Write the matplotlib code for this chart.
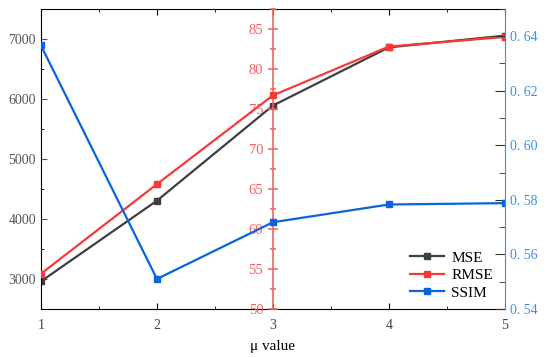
import matplotlib
matplotlib.use('Agg')
import matplotlib.pyplot as plt
from matplotlib.ticker import MultipleLocator, FuncFormatter

mu = [1, 2, 3, 4, 5]
mse = [2960, 4305, 5890, 6860, 7055]
rmse = [54.4, 65.6, 76.7, 82.8, 84.0]
ssim = [0.6366, 0.5510, 0.5718, 0.5783, 0.5788]

plt.rcParams['font.family'] = ['Liberation Serif', 'DejaVu Serif']
plt.rcParams['font.size'] = 10

c_mse = '#3f3f3f'
c_rmse = '#f53a3a'
c_ssim = '#0a64dc'
c_mid = '#f76060'
c_right = '#3a8fe8'

fig = plt.figure(figsize=(5.5, 3.58), dpi=100)
ax = fig.add_axes([0.0745, 0.137, 0.8435, 0.838])

l1, = ax.plot(mu, mse, color=c_mse, marker='s', ms=5, lw=1.6, label='MSE')
ax.set_xlim(1, 5)
ax.set_ylim(2500, 7500)
ax.xaxis.set_major_locator(MultipleLocator(1))
ax.xaxis.set_minor_locator(MultipleLocator(0.5))
ax.yaxis.set_major_locator(MultipleLocator(1000))
ax.yaxis.set_minor_locator(MultipleLocator(500))
ax.tick_params(axis='both', which='both', direction='in', top=True)
ax.tick_params(axis='y', colors='#555555', right=False)
ax.tick_params(axis='x', labelcolor='#444444', pad=7)
ax.tick_params(which='major', length=4)
ax.tick_params(which='minor', length=2.5)
ax.set_xlabel('μ value', fontsize=11, labelpad=6)
ax.spines['right'].set_visible(False)

# RMSE on an axis placed at mu = 3
ax2 = ax.twinx()
l2, = ax2.plot(mu, rmse, color=c_rmse, marker='s', ms=5, lw=1.6, label='RMSE')
ax2.set_ylim(50, 87.5)
ax2.spines['left'].set_position(('data', 3))
ax2.spines['left'].set_color(c_mid)
ax2.spines['left'].set_linewidth(1.2)
ax2.spines['left'].set_zorder(0.5)
ax2.spines['right'].set_visible(False)
ax2.spines['top'].set_visible(False)
ax2.spines['bottom'].set_visible(False)
ax2.yaxis.set_ticks_position('left')
ax2.yaxis.set_label_position('left')
ax2.yaxis.set_major_locator(MultipleLocator(5))
ax2.yaxis.set_minor_locator(MultipleLocator(2.5))
ax2.tick_params(axis='y', which='both', direction='inout', colors=c_mid, labelsize=10.5)
ax2.tick_params(axis='y', which='major', length=7, width=1.1)
ax2.tick_params(axis='y', which='minor', length=4, width=1.1)

# SSIM on the right
ax3 = ax.twinx()
l3, = ax3.plot(mu, ssim, color=c_ssim, marker='s', ms=5, lw=1.6, label='SSIM')
ax3.set_ylim(0.54, 0.65)
ax3.spines['right'].set_color(c_right)
ax3.spines['left'].set_visible(False)
ax3.spines['top'].set_visible(False)
ax3.spines['bottom'].set_visible(False)
ax3.yaxis.set_major_locator(MultipleLocator(0.02))
ax3.yaxis.set_minor_locator(MultipleLocator(0.01))
ax3.yaxis.set_major_formatter(FuncFormatter(lambda v, p: f'{v:.2f}'.replace('.', '. ')))
ax3.tick_params(axis='y', which='both', direction='in', labelcolor=c_right, color='#333333')
ax3.tick_params(axis='y', which='major', length=7)
ax3.tick_params(axis='y', which='minor', length=4)

ax3.legend(handles=[l1, l2, l3], loc='lower right', frameon=False,
           fontsize=11, handlelength=2.2, handletextpad=0.5,
           borderaxespad=0.5, labelspacing=0.25, bbox_to_anchor=(1.004, -0.015))

fig.savefig('out.png', dpi=100)
